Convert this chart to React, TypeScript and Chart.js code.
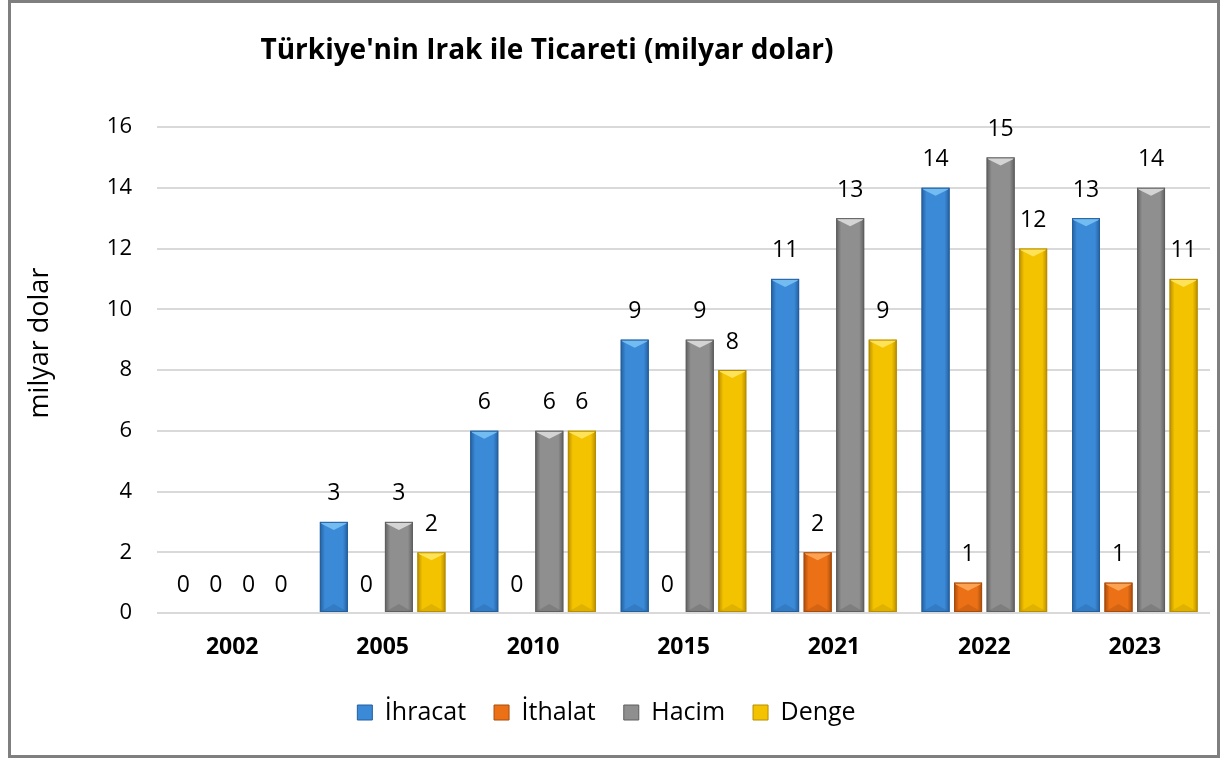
import React, { useEffect, useRef } from "react";
import { Chart, registerables } from "chart.js";
Chart.register(...registerables);

const years = ["2002", "2005", "2010", "2015", "2021", "2022", "2023"];
const ihracat = [0, 3, 6, 9, 11, 14, 13];
const ithalat = [0, 0, 0, 0, 2, 1, 1];
const hacim = [0, 3, 6, 9, 13, 15, 14];
const denge = [0, 2, 6, 8, 9, 12, 11];
const seriesNames = ["İhracat", "İthalat", "Hacim", "Denge"];
const chartTitle = "Türkiye'nin Irak ile Ticareti (milyar dolar)";
const yTitle = "milyar dolar";

const palettes = [
  { mid: "#3b8ad8", light: "#7cc4f7", dark: "#245f9e" },
  { mid: "#ec7116", light: "#ffab5e", dark: "#a84c0c" },
  { mid: "#8f8f8f", light: "#e0e0e0", dark: "#5f5f5f" },
  { mid: "#f4c300", light: "#ffe866", dark: "#b88e00" },
];

const FONT = "'Open Sans', Lato, sans-serif";

const bevelPlugin = {
  id: "bevel",
  afterDatasetsDraw(chart: any) {
    const ctx = chart.ctx;
    chart.data.datasets.forEach((ds: any, di: number) => {
      const meta = chart.getDatasetMeta(di);
      const pal = palettes[di];
      meta.data.forEach((el: any) => {
        const p = el.getProps(["x", "y", "base", "width"], true);
        const left = p.x - p.width / 2;
        const right = p.x + p.width / 2;
        const top = Math.min(p.y, p.base);
        const bottom = Math.max(p.y, p.base);
        const h = bottom - top;
        if (h < 1) return;
        const b = Math.min(8, h / 2);
        ctx.save();
        const g = ctx.createLinearGradient(left, 0, right, 0);
        g.addColorStop(0, pal.dark);
        g.addColorStop(0.18, pal.mid);
        g.addColorStop(0.5, pal.mid);
        g.addColorStop(0.82, pal.mid);
        g.addColorStop(1, pal.dark);
        ctx.fillStyle = g;
        ctx.fillRect(left, top, p.width, h);
        ctx.beginPath();
        ctx.moveTo(left, top);
        ctx.lineTo(right, top);
        ctx.lineTo(right - 2, top + 2);
        ctx.lineTo(p.x, top + b);
        ctx.lineTo(left + 2, top + 2);
        ctx.closePath();
        ctx.fillStyle = pal.light;
        ctx.globalAlpha = 0.85;
        ctx.fill();
        ctx.beginPath();
        ctx.moveTo(left, bottom);
        ctx.lineTo(right, bottom);
        ctx.lineTo(p.x, bottom - b);
        ctx.closePath();
        ctx.fillStyle = pal.dark;
        ctx.globalAlpha = 0.35;
        ctx.fill();
        ctx.globalAlpha = 1;
        ctx.strokeStyle = pal.dark;
        ctx.lineWidth = 1;
        ctx.strokeRect(left + 0.5, top + 0.5, p.width - 1, h - 1);
        ctx.restore();
      });
    });
  },
};

const labelPlugin = {
  id: "valueLabels",
  afterDatasetsDraw(chart: any) {
    const ctx = chart.ctx;
    ctx.save();
    ctx.font = `23px ${FONT}`;
    ctx.fillStyle = "#000";
    ctx.textAlign = "center";
    ctx.textBaseline = "middle";
    chart.data.datasets.forEach((ds: any, di: number) => {
      const meta = chart.getDatasetMeta(di);
      meta.data.forEach((el: any, i: number) => {
        const p = el.getProps(["x", "y"], true);
        ctx.fillText(String(ds.data[i]), p.x, p.y - 28);
      });
    });
    ctx.restore();
  },
};

const titlePlugin = {
  id: "customTitle",
  afterDraw(chart: any) {
    const ctx = chart.ctx;
    const area = chart.chartArea;
    ctx.save();
    ctx.font = `bold 28px ${FONT}`;
    ctx.fillStyle = "#000";
    ctx.textAlign = "center";
    ctx.textBaseline = "middle";
    ctx.fillText(chartTitle, area.left + 390, 48);
    ctx.translate(29, (area.top + area.bottom) / 2 - 27);
    ctx.rotate(-Math.PI / 2);
    ctx.font = `27px ${FONT}`;
    ctx.fillText(yTitle, 0, 0);
    ctx.restore();
  },
};

const legendShift = {
  id: "legendShift",
  afterLayout(chart: any) {
    const lg = chart.legend;
    if (lg) {
      lg.left -= 4;
      lg.right -= 4;
    }
  },
};

export default function App() {
  const ref = useRef<HTMLCanvasElement>(null);
  useEffect(() => {
    if (!ref.current) return;
    const values = [ihracat, ithalat, hacim, denge];
    const chart = new Chart(ref.current, {
      type: "bar",
      data: {
        labels: years,
        datasets: values.map((v, i) => ({
          label: seriesNames[i],
          data: v,
          backgroundColor: palettes[i].mid,
          borderColor: palettes[i].dark,
          borderWidth: 1,
          barPercentage: 0.86,
          categoryPercentage: 0.865,
        })),
      },
      options: {
        responsive: false,
        animation: false,
        layout: { padding: { top: 124, left: 0, right: 7, bottom: 20 } },
        plugins: {
          title: { display: false },
          tooltip: { enabled: false },
          legend: {
            position: "bottom",
            labels: {
              boxWidth: 15,
              boxHeight: 15,
              padding: 28,
              color: "#000",
              font: { size: 25, family: FONT },
            },
          },
        },
        scales: {
          x: {
            grid: { display: false, drawTicks: false },
            border: { display: false },
            ticks: {
              padding: 21,
              color: "#000",
              font: { size: 23, weight: "bold", family: FONT },
            },
            afterFit: (s: any) => {
              s.height = 59;
            },
          },
          y: {
            min: 0,
            max: 16,
            ticks: {
              stepSize: 2,
              padding: 25,
              color: "#000",
              font: { size: 22, family: FONT },
            },
            grid: { color: "#d9d9d9", lineWidth: 2, drawTicks: false },
            border: { display: false },
            title: { display: false },
            afterFit: (s: any) => {
              s.width = 146;
            },
          },
        },
      },
      plugins: [bevelPlugin, labelPlugin, titlePlugin, legendShift],
    });
    return () => chart.destroy();
  }, []);
  return (
    <div
      style={{
        position: "absolute",
        left: 8,
        top: 0,
        width: 1212,
        height: 758,
        border: "3px solid #7f7f7f",
        boxSizing: "border-box",
        background: "#fff",
      }}
    >
      <canvas ref={ref} width={1206} height={752} style={{ display: "block" }} />
    </div>
  );
}
